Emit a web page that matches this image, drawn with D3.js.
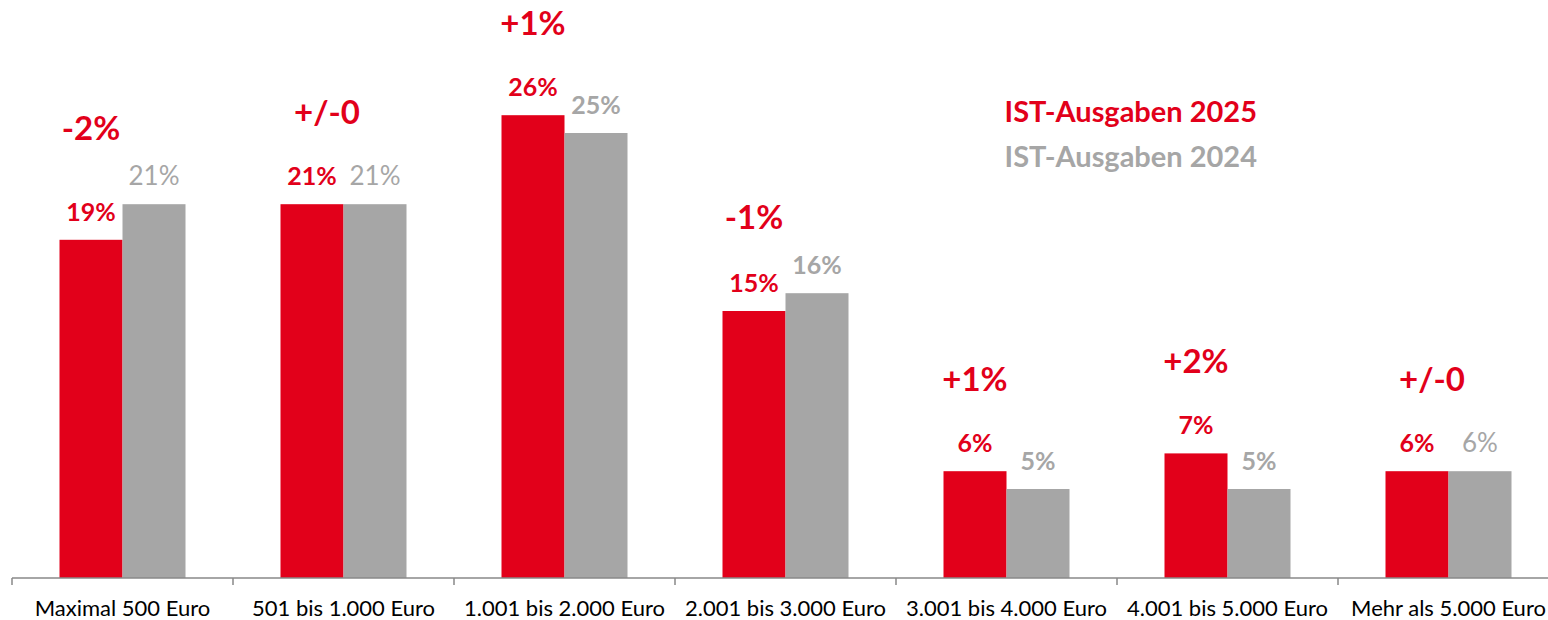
<!DOCTYPE html>
<html><head><meta charset="utf-8">
<script src="https://cdn.jsdelivr.net/npm/d3@7"></script>
<style>body{margin:0;background:#fff}svg{display:block}</style>
</head><body>
<svg id="c" width="1548" height="620"></svg>
<script>
const categories = ["Maximal 500 Euro","501 bis 1.000 Euro","1.001 bis 2.000 Euro","2.001 bis 3.000 Euro","3.001 bis 4.000 Euro","4.001 bis 5.000 Euro","Mehr als 5.000 Euro"];
const values2025 = [19,21,26,15,6,7,6];
const values2024 = [21,21,25,16,5,5,6];
const deltaLabels = ["-2%","+/-0","+1%","-1%","+1%","+2%","+/-0"];
const seriesNames = ["IST-Ausgaben 2025","IST-Ausgaben 2024"];
const grayLabelBold = [false,false,true,true,true,true,false];

const RED = "#E2001A", GRAY = "#A6A6A6";
const FONT = "Lato, 'Open Sans', sans-serif";
const svg = d3.select("#c");

const x = d3.scaleBand().domain(categories).range([12, 12 + 221*7]).paddingInner(0).paddingOuter(0);
const xs = d3.scaleBand().domain(["2025","2024"]).range([0, x.bandwidth()]).paddingInner(0).paddingOuter(0.754);
const y = d3.scaleLinear().domain([0, 30]).range([578, 44]);

const g = svg.append("g");
categories.forEach((c,i)=>{
  const gx = x(c);
  g.append("rect").attr("x", gx + xs("2025")).attr("y", y(values2025[i])).attr("width", xs.bandwidth()).attr("height", y(0)-y(values2025[i])).attr("fill", RED);
  g.append("rect").attr("x", gx + xs("2024")).attr("y", y(values2024[i])).attr("width", xs.bandwidth()).attr("height", y(0)-y(values2024[i])).attr("fill", GRAY);
  g.append("text").attr("x", gx + xs("2025") + xs.bandwidth()/2).attr("y", y(values2025[i]) - 19)
    .attr("text-anchor","middle").attr("font-family",FONT).attr("font-weight",700).attr("font-size",25).attr("fill",RED).text(values2025[i]+"%");
  g.append("text").attr("x", gx + xs("2024") + xs.bandwidth()/2).attr("y", y(values2024[i]) - 19)
    .attr("text-anchor","middle").attr("font-family",FONT).attr("font-weight",grayLabelBold[i]?700:400).attr("font-size",grayLabelBold[i]?25:26).attr("fill",GRAY).text(values2024[i]+"%");
  const cy = Math.min(y(values2025[i]) - 92, y(values2024[i]) - 76);
  g.append("text").attr("x", gx + xs("2025") + xs.bandwidth()/2 + (deltaLabels[i].length>3?15:0)).attr("y", cy + 12)
    .attr("text-anchor","middle").attr("font-family",FONT).attr("font-weight",700).attr("font-size",33).attr("fill",RED).text(deltaLabels[i]);
});

// axis
const axisG = svg.append("g").attr("transform","translate(0,578)");
axisG.append("line").attr("x1", x.range()[0]).attr("x2", x.range()[1]).attr("y1",0).attr("y2",0).attr("stroke","#898989").attr("stroke-width",1.5);
const edges = categories.map(c=>x(c)).concat([x.range()[1]]);
axisG.selectAll("line.tick").data(edges).join("line").attr("class","tick")
  .attr("x1",d=>d).attr("x2",d=>d).attr("y1",0).attr("y2",7).attr("stroke","#898989").attr("stroke-width",1.5);
axisG.selectAll("text.lab").data(categories).join("text").attr("class","lab")
  .attr("x",d=>x(d)+x.bandwidth()/2).attr("y",38).attr("text-anchor","middle")
  .attr("font-family",FONT).attr("font-size",22).attr("fill","#000").text(d=>d);

// legend
const leg = svg.append("g");
leg.append("text").attr("x",1257).attr("y",122).attr("text-anchor","end").attr("font-family",FONT).attr("font-weight",700).attr("font-size",29).attr("fill",RED).text(seriesNames[0]);
leg.append("text").attr("x",1257).attr("y",167).attr("text-anchor","end").attr("font-family",FONT).attr("font-weight",700).attr("font-size",29).attr("fill",GRAY).text(seriesNames[1]);
</script>
</body></html>
